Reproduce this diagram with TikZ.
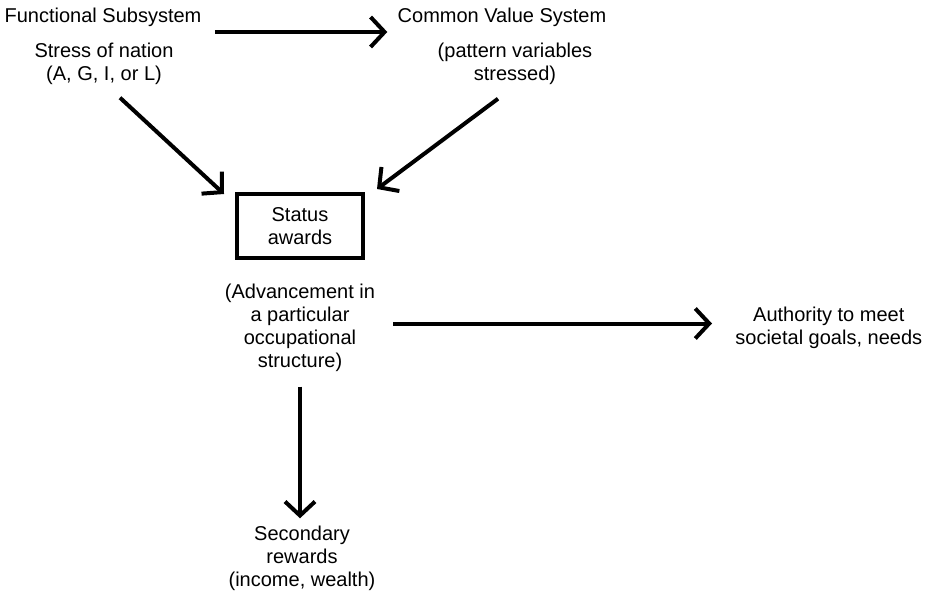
\documentclass[tikz,border=0pt]{standalone}
\usepackage{fontspec}
\setmainfont{Liberation Sans}
\usetikzlibrary{arrows.meta}

\begin{document}
\begin{tikzpicture}[x=0.5pt, y=-0.5pt,
    lbl/.style={align=center, inner sep=0pt, font=\fontsize{10}{11.5}\selectfont},
    arr/.style={line width=2pt, -{Straight Barb[length=7pt, width=15pt, line width=2pt]}}]
    % Khung hình
    \useasboundingbox (0,0) rectangle (932,594);

    % 1. Các nút chữ
    \node[lbl] (func) at (103,17) {Functional Subsystem};
    \node[lbl] (stress) at (104,63.5) {Stress of nation\\(A, G, I, or L)};
    \node[lbl] (common) at (502,17) {Common Value System};
    \node[lbl] (pattern) at (515,63.5) {(pattern variables\\stressed)};
    \node[lbl, draw, line width=2pt, minimum width=63pt, minimum height=32pt] (box) at (300,226) {Status\\awards};
    \node[lbl] (adv) at (300,327.5) {(Advancement in\\a particular\\occupational\\structure)};
    \node[lbl, anchor=west] (auth) at (735,327.5) {Authority to meet\\societal goals, needs};
    \node[lbl] (sec) at (302,558) {Secondary\\rewards\\(income, wealth)};

    % 2. Các mũi tên
    \draw[arr, shorten <=6.5pt, shorten >=5pt] ([yshift=-7.5pt]func.east) -- ([yshift=-7.5pt]common.west);
    \draw[arr] ([shift={(8pt,-6.5pt)}]stress.south) -- ([shift={(-5.5pt,-1pt)}]box.north west);
    \draw[arr] ([shift={(-8.5pt,-7pt)}]pattern.south) -- ([shift={(6pt,1.5pt)}]box.north east);
    \draw[arr, shorten <=7.5pt, shorten >=3.5pt] (adv.south) -- (adv.south |- sec.north);
    \draw[arr, shorten <=9pt, shorten >=11.5pt] ([yshift=2pt]adv.east) -- ([yshift=2pt]auth.west);

\end{tikzpicture}
\end{document}
